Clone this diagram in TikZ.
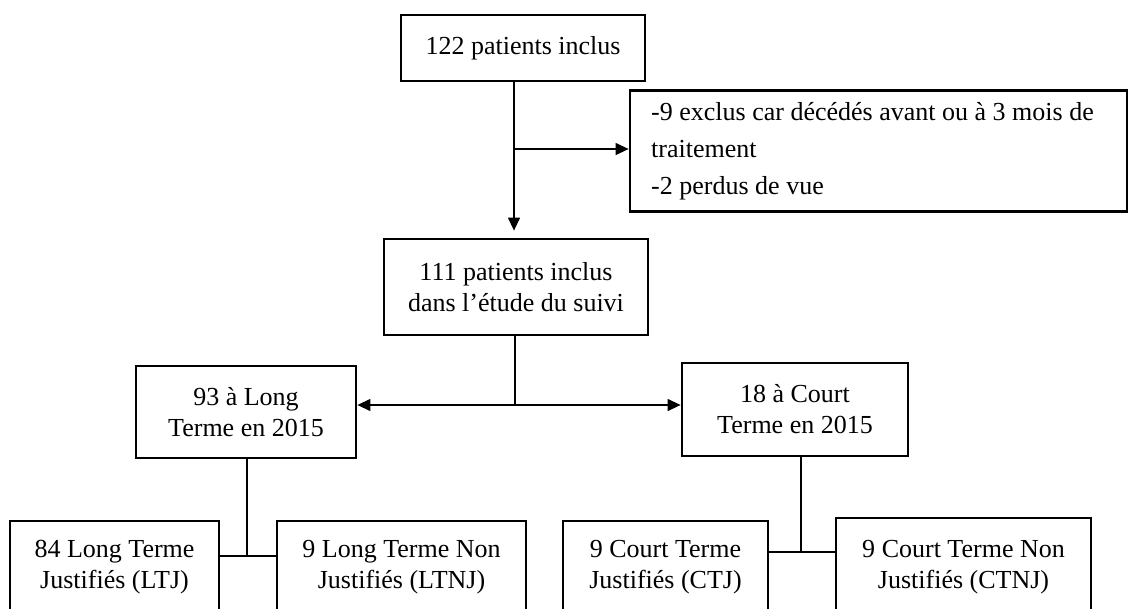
\documentclass[tikz,border=0pt]{standalone}
\usepackage{fontspec}
\setmainfont{Liberation Serif}
\usetikzlibrary{arrows.meta}
\begin{document}
\begin{tikzpicture}[x=1pt,y=-1pt,
 box/.style={draw, line width=2.8pt, inner sep=0pt, align=center, font=\fontsize{26}{31}\selectfont},
 conn/.style={line width=1.3pt},
 arr/.style={conn, -{Triangle[length=13pt,width=12pt]}}]
\useasboundingbox (0,0) rectangle (1134,608);
\clip (0,0) rectangle (1134,608);
\node[box, minimum width=244pt, minimum height=66pt] (n1) at (523,48) {122 patients inclus};
\node[box, minimum width=497pt, minimum height=121pt, align=left, font=\fontsize{26}{37}\selectfont] (ex) at (878.5,151) {-9 exclus car décédés avant ou à 3 mois de\rule{12pt}{0pt}\\traitement\\-2 perdus de vue};
\node[box, minimum width=264pt, minimum height=96pt] (n2) at (516,287) {111 patients inclus\\dans l’étude du suivi};
\node[box, minimum width=220pt, minimum height=92pt] (L) at (246,412) {93 à Long\\Terme en 2015};
\node[box, minimum width=226pt, minimum height=93pt] (R) at (795,409.5) {18 à Court\\Terme en 2015};
\node[box, minimum width=209pt, minimum height=92pt] (LTJ) at (114.5,567) {84 Long Terme\\Justifiés (LTJ)};
\node[box, minimum width=249pt, minimum height=92pt] (LTNJ) at (401.5,567) {9 Long Terme Non\\Justifiés (LTNJ)};
\node[box, minimum width=205pt, minimum height=92pt] (CTJ) at (665.5,567) {9 Court Terme\\Justifiés (CTJ)};
\node[box, minimum width=255pt, minimum height=98pt] (CTNJ) at (963.5,567) {9 Court Terme Non\\Justifiés (CTNJ)};
\coordinate (a1) at (514,149);
\coordinate (a2) at (515,405);
\coordinate (a3) at (247,556);
\coordinate (a4) at (801,552);
\draw[arr, shorten >=7pt] (n1.south -| a1) -- (n2.north -| a1);
\draw[arr] (a1) -- (ex.west |- a1);
\draw[conn] (n2.south -| a2) -- (a2);
\draw[arr] (a2) -- (L.east |- a2);
\draw[arr] (a2) -- (R.west |- a2);
\draw[conn] (L.south -| a3) -- (a3);
\draw[conn] (LTJ.east |- a3) -- (LTNJ.west |- a3);
\draw[conn] (R.south -| a4) -- (a4);
\draw[conn] (CTJ.east |- a4) -- (CTNJ.west |- a4);
\end{tikzpicture}
\end{document}
